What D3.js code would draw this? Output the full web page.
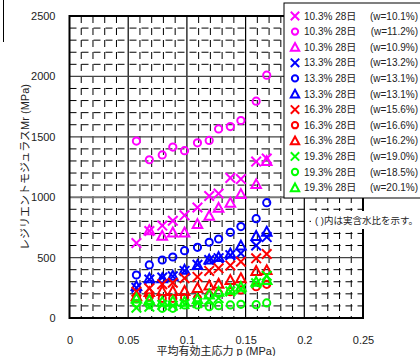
<!DOCTYPE html>
<html>
<head>
<meta charset="utf-8">
<script src="https://cdn.jsdelivr.net/npm/d3@7"></script>
<style>
  body { margin: 0; background: #fff; }
  text { font-family: "Liberation Sans", Arial, "Noto Sans CJK JP", sans-serif; }
</style>
</head>
<body>
<div class="canva"></div>
<script>
// mean effective stress p (MPa), shared by all series
const pStress = [0.057, 0.068, 0.079, 0.088, 0.098, 0.109, 0.119, 0.127, 0.137, 0.146, 0.159, 0.168];

// resilient modulus Mr (MPa) for each series
const m103x = [620, 720, 765, 805, 850, 915, 1010, 1030, 1160, 1150, 1295, 1320];
const m103o = [1465, 1310, 1350, 1415, 1385, 1450, 1470, 1565, 1585, 1635, 1795, 2010];
const m103t = [null, 728, 681, 709, 709, 778, 847, 913, 955, 1027, 1109, 1300];
const b133x = [250, 318, 335, 345, 390, 440, 480, 495, 520, 535, 600, 670];
const b133o = [356, 439, 480, 505, 557, 585, 627, 654, 709, 757, 822, 955];
const b133t = [265, 330, 330, 350, 400, 440, 485, 505, 535, 600, 680, 715];
const r163x = [218, 245, 280, 292, 330, 340, 390, 411, 435, 466, 494, 530];
const r163o = [160, 176, 163, 163, 168, 163, 190, 204, 218, 232, 259, 279];
const r163t = [180, 215, 225, 225, 225, 250, 270, 285, 315, 330, 390, 397];
const g193x = [85, 94, 108, 102, 115, 125, 150, 165, 220, 240, 287, 350];
const g193o = [122, 108, 80, 80, 108, 108, 94, 102, 108, 113, 110, 125];
const g193t = [163, 149, 135, 141, 135, 155, 196, 218, 235, 259, 300, 315];

// legend labels
const mixLabels = ['10.3%', '10.3%', '10.3%', '13.3%', '13.3%', '13.3%', '16.3%', '16.3%', '16.3%', '19.3%', '19.3%', '19.3%'];
const waterLabels = ['10.1%', '11.2%', '10.9%', '13.2%', '13.1%', '13.1%', '15.6%', '16.6%', '16.2%', '19.0%', '18.5%', '20.1%'];

const xTicks = [0, 0.05, 0.1, 0.15, 0.2, 0.25];
const yTicks = [0, 500, 1000, 1500, 2000, 2500];

const series = [
  {vals: m103x, color: '#ff00ff', shape: 'x'},
  {vals: m103o, color: '#ff00ff', shape: 'o'},
  {vals: m103t, color: '#ff00ff', shape: 't'},
  {vals: b133x, color: '#0000ff', shape: 'x'},
  {vals: b133o, color: '#0000ff', shape: 'o'},
  {vals: b133t, color: '#0000ff', shape: 't'},
  {vals: r163x, color: '#ff0000', shape: 'x'},
  {vals: r163o, color: '#ff0000', shape: 'o'},
  {vals: r163t, color: '#ff0000', shape: 't'},
  {vals: g193x, color: '#00ff00', shape: 'x'},
  {vals: g193o, color: '#00ff00', shape: 'o'},
  {vals: g193t, color: '#00ff00', shape: 't'}
];

const svg = d3.select('.canva').append('svg')
              .attr('width', 420)
              .attr('height', 356);

const x = d3.scaleLinear().domain([0, 0.25]).range([69.5, 363]);
const y = d3.scaleLinear().domain([0, 2500]).range([318, 16]);

// odd box edge at top left
svg.append('path').attr('d', 'M3.5,0V42').attr('stroke', '#000').attr('fill', 'none');

// minor grid (dashed)
const minorX = d3.range(1, 25).map(i => i / 100).filter((d, i) => (i + 1) % 5 !== 0);
const minorY = d3.range(1, 25).map(i => i * 100).filter(d => d % 500 !== 0);
const grid = svg.append('g');
grid.selectAll('.mx').data(minorX).enter().append('line')
    .attr('x1', d => x(d)).attr('x2', d => x(d))
    .attr('y1', y(2500)).attr('y2', y(0))
    .attr('stroke', '#000').attr('stroke-width', 1)
    .attr('stroke-dasharray', '7,5');
grid.selectAll('.my').data(minorY).enter().append('line')
    .attr('x1', x(0)).attr('x2', x(0.25))
    .attr('y1', d => y(d)).attr('y2', d => y(d))
    .attr('stroke', '#000').attr('stroke-width', 1)
    .attr('stroke-dasharray', '7,5');

// major grid
grid.selectAll('.Mx').data([0.05, 0.1, 0.15, 0.2]).enter().append('line')
    .attr('x1', d => x(d)).attr('x2', d => x(d))
    .attr('y1', y(2500)).attr('y2', y(0))
    .attr('stroke', '#000').attr('stroke-width', 1.2);
grid.selectAll('.My').data([500, 1000, 1500, 2000]).enter().append('line')
    .attr('x1', x(0)).attr('x2', x(0.25))
    .attr('y1', d => y(d)).attr('y2', d => y(d))
    .attr('stroke', d => d === 1000 ? '#777' : '#444')
    .attr('stroke-width', d => d === 1000 ? 2 : 1.2);

// axes
const xAxis = d3.axisBottom(x).tickValues(xTicks).tickFormat(d => d).tickSize(0).tickPadding(18);
const yAxis = d3.axisLeft(y).tickValues(yTicks).tickFormat(d => d).tickSize(0).tickPadding(14);
const xg = svg.append('g').attr('transform', 'translate(0,318)').call(xAxis);
const yg = svg.append('g').attr('transform', 'translate(69.5,0)').call(yAxis);
[xg, yg].forEach(g => {
  g.select('.domain').remove();
  g.selectAll('text').attr('font-size', 11).attr('fill', '#222')
   .attr('font-family', '"Liberation Sans", Arial, sans-serif');
});

// frame
svg.append('rect')
   .attr('x', x(0)).attr('y', y(2500))
   .attr('width', x(0.25) - x(0)).attr('height', y(0) - y(2500))
   .attr('fill', 'none').attr('stroke', '#000').attr('stroke-width', 2);

// marker drawing
function drawMarker(g, shape, color, s) {
  if (shape === 'x') {
    g.append('path')
     .attr('d', `M${-s},${-s}L${s},${s}M${-s},${s}L${s},${-s}`)
     .attr('stroke', color).attr('stroke-width', 2).attr('fill', 'none');
  } else if (shape === 'o') {
    g.append('circle').attr('r', s * 0.75)
     .attr('stroke', color).attr('stroke-width', 2).attr('fill', 'none');
  } else {
    g.append('path')
     .attr('d', `M0,${-s}L${s},${s * 0.85}L${-s},${s * 0.85}Z`)
     .attr('stroke', color).attr('stroke-width', 2).attr('fill', 'none')
     .attr('stroke-linejoin', 'miter');
  }
}

const plot = svg.append('g');
series.forEach(sr => {
  const pts = sr.vals.map((v, i) => ({p: pStress[i], v: v})).filter(d => d.v != null);
  plot.selectAll(null).data(pts).enter().append('g')
      .attr('transform', d => `translate(${x(d.p)},${y(d.v)})`)
      .each(function () { drawMarker(d3.select(this), sr.shape, sr.color, 4.8); });
});

// axis titles
svg.append('text')
   .attr('x', 216).attr('y', 355)
   .attr('text-anchor', 'middle').attr('font-size', 11).attr('fill', '#222')
   .text('平均有効主応力 p (MPa)');
svg.append('text')
   .attr('transform', 'translate(29,167) rotate(-90)')
   .attr('text-anchor', 'middle').attr('font-size', 11).attr('fill', '#222')
   .text('レジリエントモジュラスMr (MPa)');

// legend
const legend = svg.append('g');
legend.append('rect')
      .attr('x', 284).attr('y', 3).attr('width', 140).attr('height', 195)
      .attr('fill', '#fff').attr('stroke', '#000').attr('stroke-width', 1);
series.forEach((sr, i) => {
  const ly = 16 + i * 15.6;
  const g = legend.append('g').attr('transform', `translate(295,${ly})`);
  drawMarker(g, sr.shape, sr.color, 4.2);
  legend.append('text').attr('x', 304).attr('y', ly + 3.5)
        .attr('font-size', 10).attr('fill', '#222')
        .text(`${mixLabels[i]} 28日`);
  legend.append('text').attr('x', 418).attr('y', ly + 3.5)
        .attr('text-anchor', 'end')
        .attr('font-size', 10).attr('fill', '#222')
        .text(`(w=${waterLabels[i]})`);
});

// note on white background
svg.append('rect')
   .attr('x', 311).attr('y', 211).attr('width', 109).attr('height', 18)
   .attr('fill', '#fff');
svg.append('text')
   .attr('x', 315).attr('y', 224)
   .attr('font-size', 9.5).attr('fill', '#222')
   .text('( )内は実含水比を示す。');
</script>
</body>
</html>
